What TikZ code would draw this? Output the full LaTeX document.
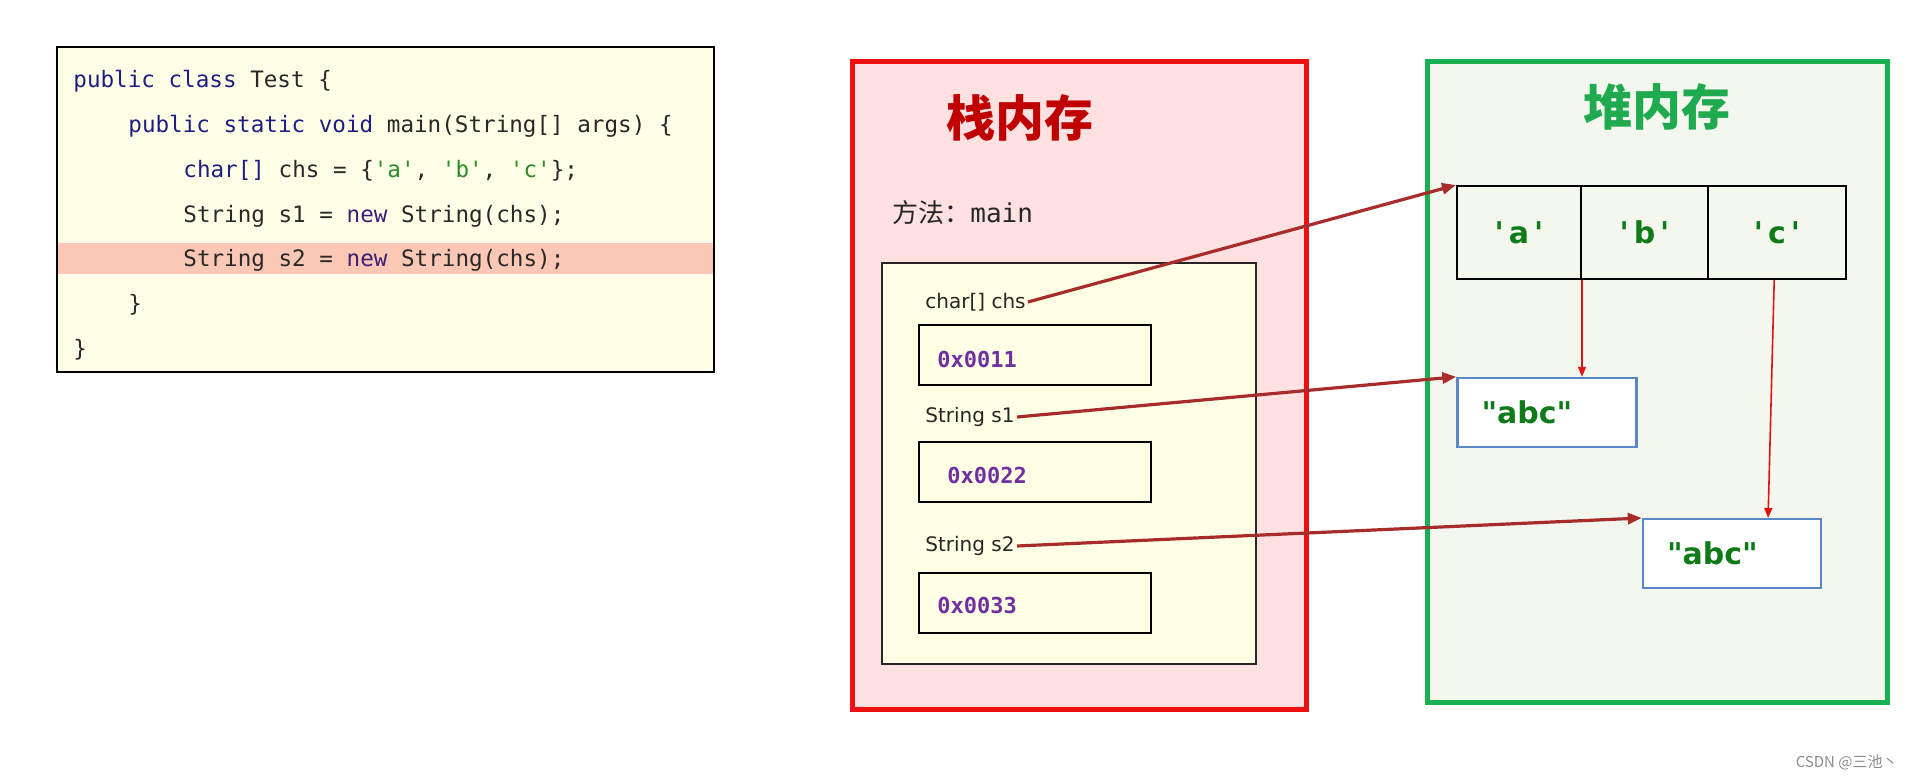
\documentclass[tikz,border=0pt]{standalone}
\usepackage{fontspec}
\setmainfont{DejaVu Sans}
\setmonofont{DejaVu Sans Mono}
\newfontfamily\cjk{Noto Sans CJK SC}
\newfontfamily\heapfont{DejaVu Sans}
\usetikzlibrary{arrows.meta,calc}
\definecolor{stackred}{RGB}{236,16,16}
\definecolor{stackfill}{RGB}{255,225,226}
\definecolor{stacktitle}{RGB}{192,0,0}
\definecolor{heapgreen}{RGB}{24,176,80}
\definecolor{heapfill}{RGB}{243,247,237}
\definecolor{heaptitle}{RGB}{32,170,80}
\definecolor{heaptext}{RGB}{14,122,24}
\definecolor{codefill}{RGB}{255,255,232}
\definecolor{hlband}{RGB}{250,200,180}
\definecolor{kw}{RGB}{30,30,130}
\definecolor{kwnew}{RGB}{60,30,120}
\definecolor{strg}{RGB}{40,140,40}
\definecolor{plain}{RGB}{40,40,40}
\definecolor{hexc}{RGB}{112,48,160}
\definecolor{blueb}{RGB}{90,135,200}
\definecolor{ptr}{RGB}{168,44,44}
\definecolor{ptrthin}{RGB}{225,20,20}
\definecolor{innerfill}{RGB}{255,255,230}
\begin{document}
\begin{tikzpicture}[x=0.5pt,y=-0.5pt,
  codebox/.style={draw=black, line width=0.8pt, fill=codefill, inner sep=0},
  codeline/.style={anchor=base west, inner sep=0, text=plain, font=\ttfamily\fontsize{11.3}{13}\selectfont},
  stackbox/.style={draw=stackred, line width=2.5pt, fill=stackfill, inner sep=0},
  heapbox/.style={draw=heapgreen, line width=2.5pt, fill=heapfill, inner sep=0},
  titlestyle/.style={inner sep=0, font=\cjk\bfseries\fontsize{24.5}{28}\selectfont},
  framebox/.style={draw=black!85, line width=0.7pt, fill=innerfill, inner sep=0, minimum width=187pt, minimum height=200.5pt},
  varlabel/.style={anchor=west, inner sep=1pt, text=black!85, font=\fontsize{10}{12}\selectfont},
  valbox/.style={draw=black, line width=1pt, inner sep=0, minimum width=116pt, minimum height=30pt},
  hexstyle/.style={anchor=west, inner sep=0, text=hexc, font=\ttfamily\bfseries\fontsize{11}{13}\selectfont},
  cell/.style={draw=black, line width=1pt, inner sep=0, minimum height=46.5pt, text=heaptext, font=\heapfont\bfseries\fontsize{15}{18}\selectfont},
  strbox/.style={draw=blueb, line width=1.2pt, fill=white, inner ysep=0, inner xsep=12pt, text width=65.5pt, align=left, minimum height=34.5pt, text=heaptext, font=\heapfont\bfseries\fontsize{15}{18}\selectfont},
  ptrarrow/.style={draw=ptr, line width=1.6pt, -{Triangle[length=7pt,width=5.5pt]}},
  thinarrow/.style={draw=ptrthin, line width=0.8pt, -{Triangle[length=5pt,width=4pt]}}
]
\useasboundingbox (0,0) rectangle (1908,780);
\fill[white] (0,0) rectangle (1908,780);

% ---------- code ----------
\node[codebox, minimum width=328.5pt, minimum height=162.5pt] (code) at (385.5,209.5) {};
\fill[hlband] (58,243) rectangle (713,274);
\node[codeline] (l1) at (73,88) {{\color{kw}public class} Test \{};
\node[codeline] (l2) at (128,133) {{\color{kw}public static void} main(String[] args) \{};
\node[codeline] (l3) at (183,178) {{\color{kw}char[]} chs = \{{\color{strg}'a'}, {\color{strg}'b'}, {\color{strg}'c'}\};};
\node[codeline] (l4) at (183,223) {String s1 = {\color{kwnew}new} String(chs);};
\node[codeline] (l5) at (183,267) {String s2 = {\color{kwnew}new} String(chs);};
\node[codeline] (l6) at (128,312) {\}};
\node[codeline] (l7) at (73,357) {\}};

% ---------- stack ----------
\node[stackbox, minimum width=227pt, minimum height=323.5pt] (stack) at (1079,385.5) {};
\node[titlestyle, text=stacktitle] (stitle) at (1020,118) {栈内存};
\node[anchor=west, inner sep=0, text=black!85, font=\fontsize{13}{15}\selectfont] (method) at (892,213) {{\cjk 方法：}{\ttfamily main}};
\node[framebox] (frame) at (1069,463.5) {};
\node[varlabel] (chs) at (923,302) {char[] chs};
\node[valbox] (v1) at (1035,355) {};
\node[hexstyle] (h1) at (937,359) {0x0011};
\node[varlabel] (s1) at (923,417) {String s1};
\node[valbox] (v2) at (1035,472.5) {};
\node[hexstyle] (h2) at (947,475) {0x0022};
\node[varlabel] (s2) at (923,546) {String s2};
\node[valbox] (v3) at (1035,603) {};
\node[hexstyle] (h3) at (937,605) {0x0033};

% ---------- heap ----------
\node[heapbox, minimum width=230pt, minimum height=320.5pt] (heap) at (1657,382.5) {};
\node[titlestyle, text=heaptitle] (htitle) at (1657,107) {堆内存};
\node[cell, minimum width=62pt] (ca) at (1519,232.5) {'\,a\,'};
\node[cell, minimum width=63.5pt] (cb) at (1644.5,232.5) {'\,b\,'};
\node[cell, minimum width=69pt] (cc) at (1777,232.5) {'\,c\,'};
\node[strbox] (abc1) at (1547,412.5) {"abc"};
\node[strbox, text width=65pt] (abc2) at (1732,553.7) {"abc"};

% ---------- arrows ----------
\draw[ptrarrow] (chs.east) -- (ca.north west);
\draw[ptrarrow] (s1.east) -- (abc1.north west);
\draw[ptrarrow] (s2.east) -- (abc2.north west);
\draw[thinarrow] (ca.south east) -- (ca.south east |- abc1.north);
\draw[thinarrow] ($(cc.south west)!0.48!(cc.south east)$) -- ($(abc2.north west)!0.7!(abc2.north east)$);

\node[anchor=east, inner sep=0, text=black!45, font=\cjk\fontsize{7.5}{9}\selectfont] (wm) at (1898,763) {CSDN @三池丶};
\end{tikzpicture}
\end{document}
